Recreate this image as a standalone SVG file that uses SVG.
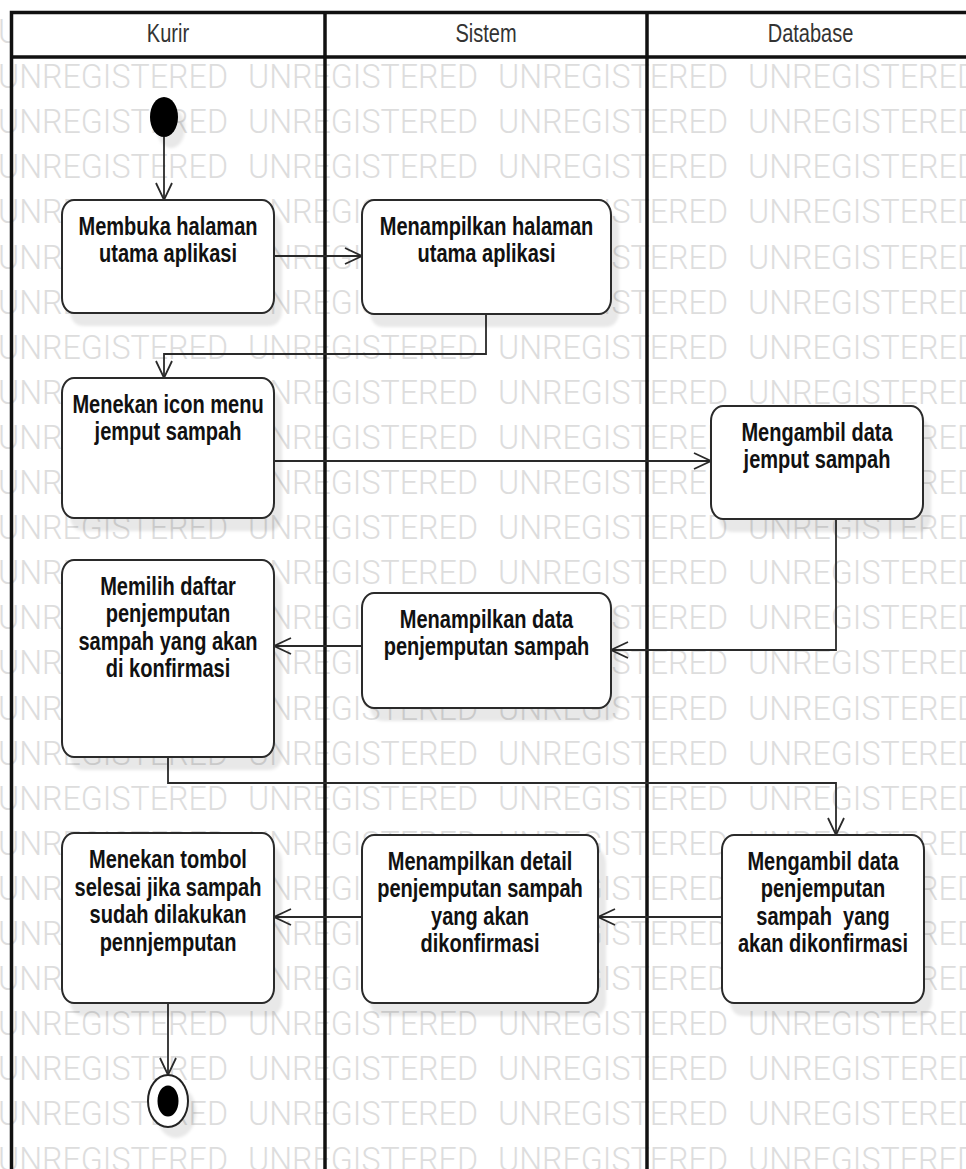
<svg xmlns="http://www.w3.org/2000/svg" xmlns:xlink="http://www.w3.org/1999/xlink" width="966" height="1169" viewBox="0 0 966 1169">
  <style>
    .wm { font-family: Roboto, "Liberation Sans", sans-serif; font-weight: 300; font-size: 34px; fill: #dddddd; }
    .lane { stroke: #111; stroke-width: 3.5; fill: none; }
    .hdr { font-family: "Liberation Sans", Arial, sans-serif; font-size: 26px; fill: #333; text-anchor: middle; }
    .box { fill: #fff; stroke: #2a2a2a; stroke-width: 2; }
    .shadow { fill: #000; fill-opacity: 0.09; filter: url(#soft); }
    .lbl { font-family: "Liberation Sans", Arial, sans-serif; font-weight: bold; font-size: 26px; fill: #111; text-anchor: middle; }
    .flow { fill: none; stroke: #2a2a2a; stroke-width: 1.8; marker-end: url(#open); }
  </style>
  <defs>
    <filter id="soft" x="-10%" y="-10%" width="120%" height="120%">
      <feGaussianBlur stdDeviation="1.5"/>
    </filter>
    <marker id="open" markerUnits="userSpaceOnUse" markerWidth="24" markerHeight="24" viewBox="-20 -12 24 24" refX="0" refY="0" orient="auto">
      <path d="M-17,-8 L0,0 L-17,8" fill="none" stroke="#2a2a2a" stroke-width="1.8"/>
    </marker>
    <!-- one watermark row: four words, each forced to the same width -->
    <g id="wmrow">
      <text class="wm" x="-2" textLength="230" lengthAdjust="spacingAndGlyphs">UNREGISTERED</text>
      <text class="wm" x="248" textLength="230" lengthAdjust="spacingAndGlyphs">UNREGISTERED</text>
      <text class="wm" x="498" textLength="230" lengthAdjust="spacingAndGlyphs">UNREGISTERED</text>
      <text class="wm" x="748" textLength="230" lengthAdjust="spacingAndGlyphs">UNREGISTERED</text>
    </g>
  </defs>

  <rect width="966" height="1169" fill="#fff"/>

  <!-- watermark background -->
  <g id="watermark">
    <use xlink:href="#wmrow" y="43"/>
    <use xlink:href="#wmrow" y="88.1"/>
    <use xlink:href="#wmrow" y="133.2"/>
    <use xlink:href="#wmrow" y="178.3"/>
    <use xlink:href="#wmrow" y="223.4"/>
    <use xlink:href="#wmrow" y="268.5"/>
    <use xlink:href="#wmrow" y="313.6"/>
    <use xlink:href="#wmrow" y="358.7"/>
    <use xlink:href="#wmrow" y="403.8"/>
    <use xlink:href="#wmrow" y="448.9"/>
    <use xlink:href="#wmrow" y="494"/>
    <use xlink:href="#wmrow" y="539.1"/>
    <use xlink:href="#wmrow" y="584.2"/>
    <use xlink:href="#wmrow" y="629.3"/>
    <use xlink:href="#wmrow" y="674.4"/>
    <use xlink:href="#wmrow" y="719.5"/>
    <use xlink:href="#wmrow" y="764.6"/>
    <use xlink:href="#wmrow" y="809.7"/>
    <use xlink:href="#wmrow" y="854.8"/>
    <use xlink:href="#wmrow" y="899.9"/>
    <use xlink:href="#wmrow" y="945"/>
    <use xlink:href="#wmrow" y="990.1"/>
    <use xlink:href="#wmrow" y="1035.2"/>
    <use xlink:href="#wmrow" y="1080.3"/>
    <use xlink:href="#wmrow" y="1125.4"/>
    <use xlink:href="#wmrow" y="1170.5"/>
  </g>

  <!-- swimlanes -->
  <g id="lanes">
    <rect x="11.5" y="12.5" width="970" height="44.5" fill="#fff"/>
    <path class="lane" d="M11.5,1169 V12.5 H966"/>
    <path class="lane" d="M11.5,57 H966"/>
    <path class="lane" d="M325,12.5 V1169"/>
    <path class="lane" d="M647,12.5 V1169"/>
    <text class="hdr" transform="translate(168 0) scale(0.77 1)" x="0" y="42.5">Kurir</text>
    <text class="hdr" transform="translate(486 0) scale(0.77 1)" x="0" y="42.5">Sistem</text>
    <text class="hdr" transform="translate(810.5 0) scale(0.77 1)" x="0" y="42.5">Database</text>
  </g>

  <!-- control flows -->
  <g id="connectors">
    <path class="flow" d="M164,137 V200"/>
    <path class="flow" d="M274,256 H362"/>
    <path class="flow" d="M486,314 V354 H164 V378"/>
    <path class="flow" d="M274,461 H711"/>
    <path class="flow" d="M836,519 V650 H611"/>
    <path class="flow" d="M362,646 H274"/>
    <path class="flow" d="M168,757 V783 H836 V835"/>
    <path class="flow" d="M722,917 H598"/>
    <path class="flow" d="M362,917 H274"/>
    <path class="flow" d="M168,1003 V1075"/>
  </g>

  <g id="start">
    <ellipse cx="171" cy="128" rx="14" ry="20" class="shadow"/>
    <ellipse cx="164" cy="117" rx="14" ry="20" fill="#000"/>
  </g>

  <g id="membuka-halaman">
    <rect class="shadow" x="70" y="213" width="212" height="113" rx="12" ry="15"/>
    <rect class="box" x="62" y="200" width="212" height="113" rx="12" ry="15"/>
    <text class="lbl" transform="translate(168 0) scale(0.77 1)"><tspan x="0" y="235">Membuka halaman</tspan><tspan x="0" y="262.4">utama aplikasi</tspan></text>
  </g>

  <g id="menampilkan-halaman">
    <rect class="shadow" x="370" y="213" width="249" height="114" rx="12" ry="15"/>
    <rect class="box" x="362" y="200" width="249" height="114" rx="12" ry="15"/>
    <text class="lbl" transform="translate(486.5 0) scale(0.77 1)"><tspan x="0" y="235">Menampilkan halaman</tspan><tspan x="0" y="262.4">utama aplikasi</tspan></text>
  </g>

  <g id="menekan-icon">
    <rect class="shadow" x="70" y="391" width="212" height="140" rx="12" ry="15"/>
    <rect class="box" x="62" y="378" width="212" height="140" rx="12" ry="15"/>
    <text class="lbl" transform="translate(168 0) scale(0.77 1)"><tspan x="0" y="413">Menekan icon menu</tspan><tspan x="0" y="440.4">jemput sampah</tspan></text>
  </g>

  <g id="mengambil-jemput">
    <rect class="shadow" x="719" y="419" width="212" height="113" rx="12" ry="15"/>
    <rect class="box" x="711" y="406" width="212" height="113" rx="12" ry="15"/>
    <text class="lbl" transform="translate(817 0) scale(0.77 1)"><tspan x="0" y="441">Mengambil data</tspan><tspan x="0" y="468.4">jemput sampah</tspan></text>
  </g>

  <g id="menampilkan-data">
    <rect class="shadow" x="370" y="606" width="249" height="115" rx="12" ry="15"/>
    <rect class="box" x="362" y="593" width="249" height="115" rx="12" ry="15"/>
    <text class="lbl" transform="translate(486.5 0) scale(0.77 1)"><tspan x="0" y="628">Menampilkan data</tspan><tspan x="0" y="655.4">penjemputan sampah</tspan></text>
  </g>

  <g id="memilih-daftar">
    <rect class="shadow" x="70" y="573" width="212" height="197" rx="12" ry="15"/>
    <rect class="box" x="62" y="560" width="212" height="197" rx="12" ry="15"/>
    <text class="lbl" transform="translate(168 0) scale(0.77 1)"><tspan x="0" y="595">Memilih daftar</tspan><tspan x="0" y="622.4">penjemputan</tspan><tspan x="0" y="649.8">sampah yang akan</tspan><tspan x="0" y="677.2">di konfirmasi</tspan></text>
  </g>

  <g id="mengambil-penjemputan">
    <rect class="shadow" x="730" y="848" width="202" height="168" rx="12" ry="15"/>
    <rect class="box" x="722" y="835" width="202" height="168" rx="12" ry="15"/>
    <text class="lbl" transform="translate(823 0) scale(0.77 1)" xml:space="preserve"><tspan x="0" y="870">Mengambil data</tspan><tspan x="0" y="897.4">penjemputan</tspan><tspan x="0" y="924.8">sampah  yang</tspan><tspan x="0" y="952.2">akan dikonfirmasi</tspan></text>
  </g>

  <g id="menampilkan-detail">
    <rect class="shadow" x="370" y="848" width="236" height="168" rx="12" ry="15"/>
    <rect class="box" x="362" y="835" width="236" height="168" rx="12" ry="15"/>
    <text class="lbl" transform="translate(480 0) scale(0.77 1)"><tspan x="0" y="870">Menampilkan detail</tspan><tspan x="0" y="897.4">penjemputan sampah</tspan><tspan x="0" y="924.8">yang akan</tspan><tspan x="0" y="952.2">dikonfirmasi</tspan></text>
  </g>

  <g id="menekan-tombol">
    <rect class="shadow" x="70" y="846" width="212" height="170" rx="12" ry="15"/>
    <rect class="box" x="62" y="833" width="212" height="170" rx="12" ry="15"/>
    <text class="lbl" transform="translate(168 0) scale(0.77 1)"><tspan x="0" y="868.5">Menekan tombol</tspan><tspan x="0" y="895.9">selesai jika sampah</tspan><tspan x="0" y="923.3">sudah dilakukan</tspan><tspan x="0" y="950.7">pennjemputan</tspan></text>
  </g>

  <g id="end">
    <ellipse class="shadow" cx="176" cy="1112" rx="20" ry="26"/>
    <ellipse cx="168" cy="1101" rx="20" ry="26" fill="#fff" stroke="#222" stroke-width="2"/>
    <ellipse cx="168" cy="1101" rx="10.5" ry="15.5" fill="#000"/>
  </g>
</svg>
